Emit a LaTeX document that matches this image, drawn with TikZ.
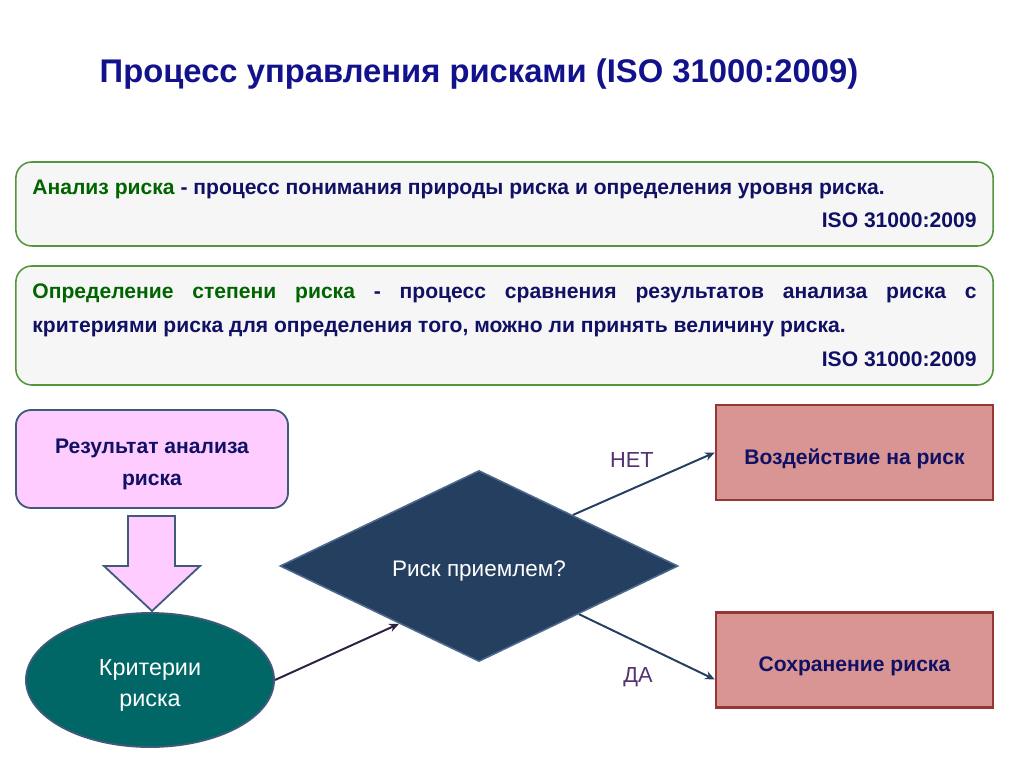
\documentclass[tikz,border=0pt]{standalone}
\usepackage{fontspec}
\setmainfont{Liberation Sans}
\usetikzlibrary{shapes.geometric,arrows.meta,calc}

\definecolor{titleblue}{RGB}{18,18,140}
\definecolor{textnavy}{RGB}{16,16,100}
\definecolor{defgreen}{RGB}{0,100,0}
\definecolor{defedge}{RGB}{84,150,60}
\definecolor{defgray}{RGB}{246,246,246}
\definecolor{resfill}{RGB}{255,204,255}
\definecolor{resedge}{RGB}{64,90,122}
\definecolor{critfill}{RGB}{0,102,102}
\definecolor{decfill}{RGB}{36,63,96}
\definecolor{decedge}{RGB}{79,106,143}
\definecolor{actfill}{RGB}{217,149,148}
\definecolor{actedge}{RGB}{149,55,53}
\definecolor{answerpurple}{RGB}{84,50,112}
\definecolor{critline}{RGB}{46,32,64}

\tikzset{
  titletext/.style={font=\fontsize{23.3}{28}\selectfont\bfseries, text=titleblue, inner sep=0pt},
  defbox/.style={draw=defedge, fill=defgray, line width=1.1pt, rounded corners=0.4cm,
    minimum width=24.425cm, inner sep=0pt, text=textnavy, font=\fontsize{15}{23}\selectfont\bfseries},
  resbox/.style={draw=resedge, fill=resfill, line width=1.3pt, rounded corners=0.38cm,
    minimum width=6.8cm, minimum height=2.45cm, align=center, text=textnavy,
    font=\fontsize{15}{23}\selectfont\bfseries},
  blockarrow/.style={draw=resedge, fill=resfill, line width=1.3pt, line join=miter},
  critell/.style={ellipse, draw=resedge, fill=critfill, line width=1.3pt, inner sep=0pt,
    minimum width=6.2cm, minimum height=3.35cm, align=center, text=white,
    font=\fontsize{16.6}{21.5}\selectfont},
  decision/.style={diamond, aspect=2, draw=decedge, fill=decfill, line width=1.1pt, inner sep=0pt,
    minimum width=9.95cm, minimum height=4.775cm, text=white, font=\fontsize{16}{20}\selectfont,
    execute at begin node={\rule{0pt}{1.1em}}},
  actbox/.style={draw=actedge, fill=actfill, line width=1.7pt, minimum width=6.925cm,
    minimum height=2.375cm, text=textnavy, font=\fontsize{15}{20}\selectfont\bfseries,
    execute at begin node={\rule{0pt}{1.3em}}},
  link/.style={draw=decfill, line width=1.4pt, -{Stealth[length=7pt,width=6pt]}},
  answer/.style={text=answerpurple, font=\fontsize{15.5}{20}\selectfont},
}

\begin{document}
\begin{tikzpicture}[x=0.025cm, y=-0.025cm]
\useasboundingbox (0,0) rectangle (1024,767);
% title
\node[titletext, anchor=base] (title) at (479,83) {Процесс управления рисками (ISO 31000:2009)};
% definitions
\node[defbox, minimum height=2.1cm] (anal) at (504.5,204) {\parbox{23.6cm}{\hyphenpenalty=10000
  {\color{defgreen}Анализ риска} - процесс понимания природы риска и определения уровня риска.\par
  \hfill ISO 31000:2009}};
\node[defbox, minimum height=2.975cm, font=\fontsize{15}{24}\selectfont\bfseries] (eval) at (504.5,325.5) {\parbox{23.6cm}{\hyphenpenalty=10000
  {\color{defgreen}Определение степени риска} - процесс сравнения результатов анализа риска с\linebreak
  критериями риска для определения того, можно ли принять величину риска.\par
  \hfill ISO 31000:2009}};
% left column
\node[resbox] (res) at (152,459) {\rule{0pt}{1.2em}Результат анализа\\риска};
\draw[blockarrow] (128,516) -- (175,516) -- (175,566) -- (200,566) -- (152,611)
  -- (104,566) -- (128,566) -- cycle;
\node[critell] (crit) at (150,680) {\rule{0pt}{1.15em}Критерии\\риска};
% decision
\node[decision] (dec) at (479,566) {Риск приемлем?};
\node[actbox] (treat) at (854.5,452.5) {Воздействие на риск};
\node[actbox] (keep) at (854.5,660) {Сохранение риска};
% connectors
\draw[link, draw=critline] (crit.east) -- ($(dec.west)!0.6!(dec.south)$);
\draw[link] ($(dec.north)!0.47!(dec.east)$) -- (treat.west);
\draw[link] ($(dec.south)!0.5!(dec.east)$) -- ($(keep.west)!0.4!(keep.south west)$);
\node[answer] (no) at (632,460) {НЕТ};
\node[answer] (yes) at (638,677) {ДА};
\end{tikzpicture}
\end{document}
